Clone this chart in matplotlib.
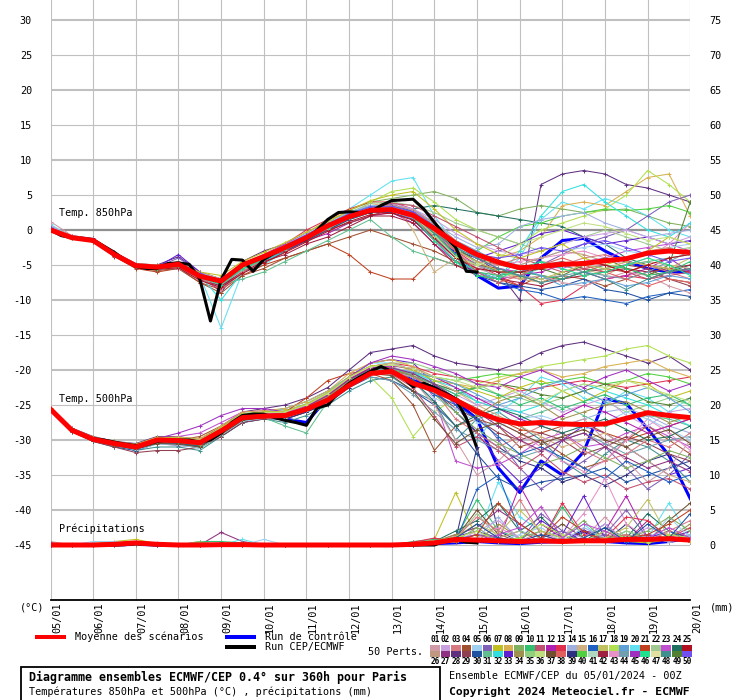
import numpy as np
import matplotlib
matplotlib.use('Agg')
import matplotlib.pyplot as plt
from matplotlib.patches import Rectangle
import matplotlib.transforms as mtransforms

W, H = 740, 700
MONO = 'DejaVu Sans Mono'
plt.rcParams['font.family'] = [MONO]

# ---------------- data ----------------
dates = ['05/01', '06/01', '07/01', '08/01', '09/01', '10/01', '11/01', '12/01',
         '13/01', '14/01', '15/01', '16/01', '17/01', '18/01', '19/01', '20/01']
hours12 = np.arange(0, 361, 12)   # members / mean / control every 12 h
hours6 = np.arange(0, 241, 6)     # deterministic run every 6 h, up to 240 h

left_ticks = list(range(-45, 31, 5))
right_ticks = list(range(0, 76, 5))

pert_colors = ['#d09aa8', '#c8a0e0', '#d87880', '#a05030', '#a0d0f0', '#8060b8', '#c0c020', '#d8b050',
               '#80b060', '#30c070', '#c05070', '#b020b0', '#e03050', '#a0b0e0', '#d0b080', '#2060c0',
               '#c0c060', '#b0e050', '#60a0d8', '#60e0f0', '#c04020', '#a0c890', '#c050d0', '#207060',
               '#b01020', '#c09880', '#903080', '#603080', '#904050', '#2050a0', '#60c090', '#30e0e0',
               '#6020d0', '#a09050', '#90d080', '#c0e080', '#705030', '#e06060', '#303080', '#50d040',
               '#b0d8c0', '#a02040', '#e890c8', '#70a0b0', '#a030c0', '#20e090', '#e0e0a0', '#409090',
               '#508030', '#7050f0']

# Temperature 850 hPa (deg C)
t850_mean = [0.0, -1.1, -1.5, -3.5, -5.1, -5.3, -4.9, -6.6, -7.3, -5.0, -3.8, -2.5, -1.1, 0.6, 1.9, 2.8,
             2.9, 2.1, 0.2, -1.9, -3.5, -4.6, -5.4, -5.2, -4.9, -4.8, -4.4, -4.1, -3.3, -3.0, -3.2]
t850_control = [0.0, -1.1, -1.5, -3.4, -5.0, -5.3, -4.9, -6.6, -7.5, -5.0, -3.8, -2.5, -1.0, 0.6, 1.9, 3.0,
                3.5, 2.5, 0.0, -3.5, -6.5, -8.3, -8.0, -4.0, -1.5, -1.2, -3.0, -4.5, -5.5, -6.0, -6.0]
t850_oper = [0.0, -0.8, -1.1, -1.2, -1.4, -2.3, -3.2, -4.3, -5.2, -5.5, -5.5, -4.8, -4.7, -4.9, -7.0, -13.0,
             -7.1, -4.2, -4.3, -5.9, -4.2, -3.3, -2.5, -1.8, -1.3, 0.0, 1.5, 2.5, 2.6, 2.5, 2.6, 3.5,
             4.2, 4.3, 4.4, 3.0, 1.1, -0.8, -2.5, -5.9, -6.0]
t850_member_ids = [28, 9, 24, 20, 21, 13, 16, 8, 18, 6, 40, 12, 43, 4, 15, 30, 23, 31, 22, 33, 32, 29,
                   49, 14, 42, 5, 44, 2, 1, 3, 7, 10, 11, 17, 19, 25, 26, 36, 38, 46, 48, 50]
t850_members = [
    [0.5, -0.8, -1.2, -3.2, -4.8, -5.0, -3.8, -6.0, -9.0, -4.5, -3.0, -2.0, -0.5, 1.0, 2.5, 3.5, 3.0, 1.5, -1.0, -3.0, -4.0, -6.0, -10.0, 6.5, 8.0, 8.5, 8.0, 6.5, 6.0, 5.0, 4.0],
    [0.2, -1.0, -1.6, -3.6, -5.2, -5.6, -4.8, -6.5, -7.0, -4.8, -3.5, -2.2, -0.8, 1.0, 2.8, 4.0, 4.5, 5.0, 5.5, 4.5, 2.5, 2.0, 3.0, 3.5, 3.0, 2.5, 2.8, 3.0, 2.0, 1.0, 0.5],
    [0.0, -1.2, -1.4, -3.4, -5.0, -5.2, -5.0, -7.0, -8.0, -6.0, -4.0, -2.5, -1.0, 0.5, 2.0, 3.0, 3.5, 3.0, 3.5, 3.0, 2.5, 2.0, 1.5, 1.0, 0.5, -1.0, -2.0, -4.0, -5.0, -6.0, -5.0],
    [0.8, -1.0, -1.5, -3.3, -5.0, -5.5, -5.0, -6.5, -14.0, -6.0, -5.0, -3.0, -1.5, 0.5, 3.0, 5.0, 7.0, 7.5, 2.0, -2.0, -5.0, -7.0, -4.0, 1.5, 4.0, 3.0, 4.5, 3.5, 2.0, 0.0, -1.0],
    [0.0, -1.2, -1.7, -3.8, -5.5, -6.0, -5.5, -7.5, -8.5, -6.5, -5.0, -4.0, -3.0, -2.0, -3.5, -6.0, -7.0, -7.0, -4.0, -5.0, -6.0, -7.0, -8.0, -6.5, -7.0, -6.0, -5.5, -6.0, -5.0, -5.5, -6.0],
    [0.2, -1.0, -1.5, -3.5, -5.0, -5.2, -4.5, -6.0, -7.0, -5.5, -4.0, -2.0, 0.0, 1.5, 3.0, 4.0, 4.0, 3.0, 0.5, -3.0, -5.0, -6.5, -8.0, -10.5, -10.0, -8.0, -7.0, -6.5, -7.0, -6.0, -5.5],
    [0.0, -1.2, -1.6, -3.6, -5.3, -5.6, -5.5, -7.0, -7.5, -5.0, -4.0, -3.0, -1.5, 0.0, 1.5, 2.5, 3.0, 2.0, -1.0, -4.0, -6.0, -7.5, -8.5, -9.0, -10.0, -9.5, -10.0, -10.5, -9.5, -9.0, -8.5],
    [0.5, -0.9, -1.4, -3.4, -5.0, -5.1, -4.8, -6.2, -7.5, -5.2, -3.5, -2.0, -0.5, 1.5, 2.5, 3.5, 3.5, 2.5, 0.0, -2.0, -3.5, -4.0, -3.0, -1.0, 3.5, 4.0, 3.5, 5.5, 7.5, 8.0, 2.0],
    [0.0, -1.1, -1.5, -3.5, -5.2, -5.4, -5.0, -6.5, -8.0, -5.0, -3.8, -2.3, -1.0, 0.5, 2.0, 4.0, 5.5, 6.0, 4.0, 1.5, 0.0, -1.0, -2.0, 0.0, 1.0, 2.0, 3.0, 5.0, 8.5, 6.5, 4.0],
    [0.3, -1.0, -1.5, -3.5, -5.0, -5.3, -4.0, -6.0, -7.0, -5.0, -4.0, -2.5, -1.0, 0.5, 2.0, 3.0, 3.5, 2.5, -1.0, -3.5, -5.0, -5.5, -6.0, -5.0, -3.5, -2.0, -1.0, 0.0, 2.0, 4.0, 5.0],
    [0.0, -1.0, -1.3, -3.3, -5.0, -5.0, -5.2, -6.8, -7.0, -5.5, -4.5, -3.0, -1.5, 0.0, 1.5, 2.5, 3.0, 2.0, 0.0, -2.5, -3.0, -1.0, 0.5, 1.0, 2.0, 2.5, 3.0, 2.8, 3.0, 3.5, 2.5],
    [0.2, -1.1, -1.5, -3.6, -5.1, -5.4, -5.2, -7.0, -8.5, -6.0, -4.5, -3.0, -1.5, -0.5, 1.0, 2.0, 2.5, 1.0, -2.0, -4.5, -6.0, -7.0, -6.5, -6.0, -5.0, -6.0, -7.0, -6.5, -5.5, -4.0, -6.0],
    [0.6, -1.0, -1.6, -3.5, -5.0, -5.5, -5.0, -6.3, -7.2, -5.2, -4.0, -2.5, -1.0, 0.5, 2.0, 3.0, 3.0, 1.5, -1.5, -4.0, -5.5, -5.0, -4.5, -4.0, -3.5, -3.0, -4.0, -5.0, -4.0, -2.0, 1.0],
    [0.0, -1.1, -1.7, -3.7, -5.4, -5.8, -5.5, -7.5, -9.0, -6.5, -5.5, -4.0, -3.0, -2.0, -1.0, 0.0, -1.0, -2.0, -3.0, -4.5, -5.0, -5.5, -6.5, -7.5, -6.5, -7.0, -8.0, -7.0, -6.0, -7.0, -7.5],
    [0.2, -1.0, -1.5, -3.3, -4.8, -5.0, -4.6, -6.0, -7.0, -5.0, -4.0, -2.0, -0.5, 1.0, 2.5, 3.5, 4.0, 0.0, -6.0, -4.0, -5.0, -6.0, -7.0, -7.5, -6.0, -5.5, -6.5, -5.0, -4.5, -5.0, -5.5],
    [0.0, -1.1, -1.5, -3.5, -5.3, -5.5, -5.2, -6.8, -8.0, -5.5, -4.5, -3.0, -1.5, 0.0, 1.5, 2.5, 2.5, 1.5, -1.5, -4.5, -6.5, -7.5, -8.0, -8.5, -8.0, -7.0, -8.5, -9.0, -10.0, -9.0, -9.5],
    [0.4, -1.0, -1.4, -3.4, -5.0, -5.2, -4.8, -6.5, -7.5, -5.0, -3.5, -2.0, -0.5, 1.0, 2.5, 3.5, 3.5, 3.0, 1.0, -2.0, -4.0, -5.5, -6.0, -5.0, -5.5, -4.5, -4.0, -3.0, -2.5, -2.0, -3.0],
    [0.0, -1.2, -1.6, -3.6, -5.2, -5.4, -5.0, -6.6, -7.8, -7.0, -6.0, -4.5, -3.0, -1.5, 0.0, 1.5, -1.0, -3.0, -4.0, -5.0, -5.5, -6.0, -6.5, -5.5, -5.0, -6.0, -5.5, -5.0, -4.5, -4.0, -3.5],
    [0.2, -1.0, -1.5, -3.4, -5.0, -5.2, -5.0, -6.2, -7.0, -5.0, -3.8, -2.4, -0.8, 1.0, 2.5, 3.8, 4.0, 3.5, 2.5, 1.0, 0.0, -1.0, -2.0, -3.0, -2.0, -1.0, 0.0, -1.0, -2.0, -3.0, -2.5],
    [0.2, -1.1, -1.6, -3.5, -5.1, -5.3, -3.5, -6.0, -8.0, -5.5, -4.0, -2.5, -1.0, 0.5, 2.0, 3.0, 3.0, 2.0, -0.5, -3.0, -4.0, -3.0, -2.0, -0.5, 0.0, -1.0, -2.0, -1.5, -1.0, -2.0, -1.5],
    [0.0, -1.0, -1.5, -3.5, -5.0, -5.3, -5.0, -6.5, -10.0, -6.0, -4.5, -3.0, -1.0, 0.5, 2.0, 3.0, 3.0, 2.0, -0.5, -4.0, -6.0, -7.0, -3.0, 2.0, 5.5, 6.5, 4.0, 2.0, 0.0, -1.0, 1.0],
    [0.0, -1.1, -1.5, -3.5, -5.2, -5.4, -5.2, -6.5, -7.5, -5.5, -4.0, -3.0, -1.0, 0.0, 1.0, 2.0, 3.0, 2.5, 0.5, -2.0, -4.0, -5.0, -5.5, -5.0, -4.5, -5.5, -6.0, -5.0, -5.5, -7.0, -8.0],
    [0.2, -1.0, -1.4, -3.4, -5.0, -5.2, -5.0, -6.3, -7.3, -5.0, -3.8, -2.5, -1.0, 0.5, 2.0, 3.2, 3.5, 2.5, 0.0, -2.5, -4.5, -6.0, -6.0, -5.5, -6.5, -5.0, -4.0, -5.5, -6.5, -5.0, 4.0],
    [0.3, -1.0, -1.5, -3.5, -5.0, -5.2, -4.8, -6.4, -7.5, -5.3, -4.0, -2.5, -1.0, 0.5, 2.0, 3.0, 3.5, 3.0, 1.0, -1.0, -2.5, -2.0, 0.5, 1.5, 2.0, 2.5, 1.0, 0.0, -1.0, -0.5, 0.0],
    [0.0, -1.2, -1.6, -3.6, -5.2, -5.5, -5.2, -7.0, -8.0, -6.0, -4.5, -3.5, -2.0, -1.0, 0.5, 2.0, 2.0, 1.0, -2.0, -5.0, -6.5, -7.0, -7.5, -8.0, -7.0, -6.5, -6.0, -5.5, -6.0, -5.5, -5.0],
    [0.4, -0.9, -1.3, -3.3, -4.9, -5.1, -4.9, -6.2, -7.0, -5.0, -3.8, -2.2, -0.5, 1.0, 2.5, 3.5, 3.5, 2.0, -0.5, -2.5, -4.0, -4.5, -5.0, -4.0, -3.0, -2.5, -2.0, -3.0, -3.5, -2.5, -2.0],
    [0.0, -1.1, -1.5, -3.5, -5.1, -5.3, -5.0, -6.5, -7.5, -5.5, -4.0, -2.8, -1.2, 0.2, 1.8, 2.8, 3.0, 2.0, -1.0, -3.5, -5.0, -6.0, -6.5, -7.0, -6.5, -6.0, -6.5, -7.0, -6.0, -4.5, -3.0],
    [0.5, -1.0, -1.5, -3.4, -5.0, -5.2, -5.0, -6.6, -7.2, -5.0, -3.6, -2.2, -0.8, 0.8, 2.2, 3.2, 3.8, 3.0, 1.5, -0.5, -2.0, -3.0, -3.5, -3.0, -2.0, -1.0, -0.5, 0.0, -1.0, -2.0, -1.0],
    [1.2, -0.8, -1.3, -3.2, -5.0, -5.4, -5.5, -7.0, -7.8, -5.8, -4.2, -2.8, -1.2, 0.2, 1.8, 3.0, 3.2, 2.2, -0.5, -3.0, -5.5, -6.5, -7.0, -6.5, -7.5, -8.0, -7.0, -6.0, -6.5, -8.0, -9.0],
    [0.3, -1.0, -1.5, -3.5, -5.2, -5.5, -5.3, -6.8, -8.5, -6.0, -4.2, -2.6, -1.2, 0.3, 1.7, 2.7, 2.8, 1.8, -1.0, -3.0, -4.5, -5.0, -4.0, -4.5, -5.0, -4.0, -3.5, -4.5, -5.0, -6.0, -7.0],
    [0.1, -1.0, -1.5, -3.5, -5.0, -5.3, -5.0, -6.0, -6.5, -4.5, -3.2, -1.8, -0.3, 1.2, 2.8, 4.2, 5.0, 5.5, 3.0, 0.0, -2.0, -3.5, -4.0, -3.0, -2.0, -4.0, -5.0, -4.0, -3.0, -1.0, -2.0],
    [0.2, -1.1, -1.6, -3.6, -5.2, -5.4, -5.1, -6.7, -7.6, -5.4, -4.1, -2.6, -1.1, 0.4, 1.9, 2.9, 3.1, 2.1, -0.5, -3.5, -6.0, -6.5, -6.0, -6.5, -7.0, -6.0, -5.0, -5.5, -6.5, -6.0, -4.5],
    [0.0, -1.0, -1.4, -3.4, -5.0, -5.2, -5.0, -6.6, -7.4, -5.2, -3.9, -2.5, -1.0, 0.5, 2.0, 3.2, 3.8, 3.5, 2.0, 0.5, -1.0, -2.5, -4.0, -5.0, -6.0, -5.5, -5.0, -6.0, -7.0, -6.5, -6.0],
    [0.3, -1.1, -1.5, -3.5, -5.1, -5.3, -4.9, -6.4, -7.4, -5.1, -3.9, -2.4, -0.9, 0.6, 2.1, 3.1, 3.3, 2.3, -0.2, -2.8, -4.6, -5.8, -6.8, -7.0, -6.0, -5.0, -5.5, -4.5, -5.0, -5.5, -4.0],
    [0.4, -1.0, -1.4, -3.3, -4.9, -5.1, -4.8, -6.3, -7.1, -5.0, -3.7, -2.2, -0.7, 0.9, 2.4, 3.4, 3.4, 2.6, 0.8, -1.5, -3.0, -4.5, -5.5, -6.5, -8.0, -7.5, -7.0, -8.0, -7.5, -6.5, -7.0],
    [0.0, -1.2, -1.6, -3.7, -5.3, -5.6, -5.4, -7.2, -8.2, -6.2, -4.7, -3.2, -1.7, -0.2, 1.2, 2.2, 2.4, 1.4, -1.2, -4.0, -5.5, -6.0, -6.0, -5.5, -5.0, -4.5, -5.0, -6.0, -5.0, -4.0, -3.5],
    [0.2, -1.0, -1.5, -3.5, -5.0, -5.2, -5.0, -6.4, -7.3, -5.1, -3.9, -2.4, -0.9, 0.6, 2.1, 3.1, 3.6, 2.8, 1.0, -1.5, -3.5, -5.0, -5.0, -4.0, -3.0, -3.5, -4.5, -4.0, -3.0, -2.5, -3.5],
    [0.1, -1.1, -1.5, -3.5, -5.1, -5.3, -5.0, -6.5, -7.6, -5.3, -4.0, -2.6, -1.1, 0.4, 1.9, 2.9, 3.1, 2.1, -0.8, -3.8, -5.0, -4.0, -2.0, -1.0, 0.0, 1.0, 0.5, -0.5, -1.5, -1.0, -2.0],
    [0.3, -0.9, -1.4, -3.4, -5.0, -5.2, -4.9, -6.4, -7.3, -5.1, -3.9, -2.4, -0.9, 0.6, 2.1, 3.1, 3.3, 2.4, 0.0, -3.0, -6.0, -7.5, -6.5, -5.0, -4.0, -5.0, -6.0, -7.0, -8.0, -7.0, -7.5],
    [0.0, -1.1, -1.6, -3.6, -5.2, -5.5, -5.2, -6.8, -7.8, -5.6, -4.2, -2.7, -1.2, 0.3, 1.8, 2.8, 3.0, 1.8, -1.5, -4.5, -6.5, -7.0, -5.5, -4.5, -5.5, -6.5, -6.0, -5.0, -4.0, -5.0, -6.5],
    [0.2, -1.0, -1.5, -3.4, -5.0, -5.2, -5.0, -6.5, -7.4, -5.2, -3.9, -2.4, -0.9, 0.6, 2.0, 3.0, 3.2, 2.2, -0.5, -2.5, -4.0, -5.5, -6.5, -7.5, -7.0, -6.0, -7.0, -8.5, -7.0, -6.0, -5.5],
    [0.3, -1.0, -1.5, -3.5, -5.1, -5.3, -4.7, -6.2, -7.2, -5.0, -3.7, -2.2, -0.7, 0.8, 2.3, 3.3, 3.4, 2.6, 0.5, -2.0, -3.5, -4.0, -3.5, -2.5, -3.0, -2.0, -1.5, -2.5, -3.5, -4.5, -4.0],
]

# Temperature 500 hPa (deg C)
t500_mean = [-25.6, -28.6, -29.9, -30.5, -31.0, -30.0, -30.1, -30.4, -28.7, -26.8, -26.6, -26.5, -25.6,
             -24.3, -22.2, -20.5, -20.2, -21.9, -22.9, -24.3, -26.0, -27.1, -27.7, -27.5, -27.7, -27.8,
             -27.7, -26.9, -26.1, -26.5, -26.8]
t500_control = [-25.6, -28.6, -29.9, -30.5, -31.0, -30.0, -30.1, -30.4, -28.7, -26.8, -26.6, -27.0, -27.5,
                -24.0, -21.5, -20.0, -20.0, -21.5, -22.5, -24.5, -27.0, -34.0, -37.5, -33.0, -35.0, -31.7,
                -24.1, -24.8, -28.4, -32.2, -38.4]
t500_oper = [-25.6, -27.2, -28.5, -29.3, -29.8, -30.0, -30.3, -30.6, -30.8, -30.6, -30.2, -30.0, -30.0,
             -30.0, -30.3, -30.0, -29.0, -27.5, -26.5, -26.3, -26.3, -26.8, -27.2, -27.5, -27.9, -25.4,
             -25.0, -23.2, -21.9, -21.0, -20.2, -19.5, -20.2, -21.0, -22.4, -21.9, -22.5, -23.3, -24.1,
             -26.9, -31.2]
t500_member_ids = [28, 6, 18, 33, 23, 48, 13, 40, 30, 20, 4, 35, 21, 39, 31, 8, 29, 14, 43, 49, 15, 32,
                   45, 44, 1, 2, 3, 5, 7, 9, 10, 11, 12, 16, 19, 24, 27, 36, 37, 34]
t500_members = [
    [-25.5, -28.3, -29.5, -30.2, -30.5, -29.5, -29.5, -30.0, -28.0, -26.0, -25.5, -25.0, -24.0, -22.5, -20.0, -17.5, -17.0, -16.5, -18.0, -19.0, -19.5, -20.0, -19.0, -17.5, -16.5, -16.0, -17.0, -18.0, -19.0, -18.0, -20.0],
    [-25.6, -28.7, -30.0, -30.8, -31.5, -30.5, -30.8, -31.0, -29.0, -27.0, -26.5, -27.0, -26.0, -24.5, -22.0, -20.0, -19.5, -21.0, -22.0, -24.0, -26.0, -30.0, -34.0, -37.0, -35.0, -33.0, -31.0, -34.0, -37.0, -35.0, -32.0],
    [-25.4, -28.5, -29.8, -30.5, -31.0, -30.0, -30.0, -30.5, -28.5, -26.5, -26.0, -26.5, -25.5, -24.0, -22.0, -21.0, -24.0, -29.5, -26.0, -24.0, -22.0, -21.0, -20.5, -19.5, -19.0, -18.5, -18.0, -17.0, -16.5, -18.0, -19.0],
    [-25.6, -28.6, -29.9, -30.6, -31.2, -30.2, -30.3, -30.6, -29.0, -27.0, -26.0, -25.5, -24.5, -23.0, -21.0, -19.0, -18.5, -19.0, -22.0, -25.0, -29.0, -33.0, -36.0, -34.0, -30.0, -28.0, -29.0, -31.0, -33.0, -35.0, -34.0],
    [-25.5, -28.4, -29.7, -30.3, -30.8, -29.8, -29.5, -29.0, -27.5, -26.0, -25.8, -26.0, -25.0, -23.5, -21.0, -19.5, -19.0, -20.0, -24.0, -33.0, -34.0, -33.5, -32.0, -30.0, -29.0, -31.0, -30.5, -29.0, -28.0, -29.5, -31.0],
    [-25.6, -28.7, -30.0, -30.8, -31.5, -31.0, -31.0, -31.5, -29.5, -27.5, -27.0, -27.5, -26.5, -25.0, -23.0, -21.5, -21.0, -23.0, -24.5, -30.0, -27.0, -26.0, -28.0, -30.0, -33.0, -35.0, -32.0, -30.0, -31.0, -33.0, -36.0],
    [-25.5, -28.5, -29.8, -30.4, -30.8, -29.8, -29.8, -30.2, -28.5, -26.8, -26.5, -26.0, -25.0, -23.5, -21.5, -19.5, -19.0, -19.5, -20.5, -21.0, -21.5, -22.0, -23.0, -22.5, -22.0, -21.5, -22.0, -22.5, -22.0, -21.5, -21.0],
    [-25.6, -28.6, -29.9, -30.5, -31.0, -30.0, -30.2, -30.5, -28.8, -26.8, -26.5, -26.5, -25.5, -24.0, -21.5, -20.0, -20.0, -20.5, -21.0, -21.5, -21.0, -20.5, -21.0, -22.0, -21.5, -21.0, -22.0, -21.5, -20.5, -21.0, -22.0],
    [-25.6, -28.8, -30.2, -31.0, -31.5, -30.5, -30.5, -31.0, -29.5, -27.5, -27.0, -27.0, -26.0, -24.5, -22.5, -21.0, -21.5, -23.0, -25.0, -28.0, -32.0, -35.5, -37.0, -36.0, -35.5, -35.0, -34.0, -36.0, -35.0, -34.0, -33.0],
    [-25.5, -28.5, -29.8, -30.5, -31.0, -30.0, -30.0, -30.3, -28.5, -26.5, -26.0, -25.5, -24.5, -23.0, -21.0, -19.0, -19.0, -20.0, -22.0, -23.5, -30.0, -26.0, -24.0, -21.0, -22.0, -24.0, -25.0, -23.0, -24.0, -26.0, -24.0],
    [-25.6, -28.7, -30.0, -30.7, -31.2, -30.2, -30.0, -29.5, -28.0, -26.5, -26.8, -27.0, -26.0, -24.5, -22.0, -20.5, -21.5, -25.0, -31.5, -28.0, -27.0, -28.0, -31.0, -30.0, -32.0, -34.0, -33.0, -30.0, -28.0, -30.0, -32.0],
    [-25.5, -28.4, -29.6, -30.2, -30.8, -29.8, -29.6, -30.0, -28.2, -26.2, -26.0, -25.8, -24.8, -23.2, -21.0, -19.5, -19.0, -19.0, -20.0, -21.0, -22.0, -23.5, -24.0, -25.0, -24.0, -23.0, -24.5, -26.0, -25.0, -24.0, -25.0],
    [-25.6, -28.6, -29.9, -30.6, -31.0, -30.0, -30.3, -30.8, -29.0, -27.0, -26.5, -26.0, -24.0, -21.5, -20.5, -20.0, -20.5, -21.0, -22.5, -24.0, -25.5, -27.0, -28.5, -29.0, -28.0, -27.5, -29.0, -30.0, -29.0, -28.0, -27.0],
    [-25.6, -28.7, -30.1, -30.8, -31.3, -30.5, -30.5, -31.0, -29.2, -27.2, -26.8, -27.0, -26.0, -24.8, -22.5, -20.5, -20.5, -21.5, -23.0, -26.0, -29.0, -31.0, -33.0, -34.0, -36.0, -35.0, -36.5, -35.0, -33.0, -32.0, -34.0],
    [-25.6, -28.6, -30.0, -30.6, -31.1, -30.4, -30.6, -31.2, -29.4, -27.2, -26.8, -28.0, -29.0, -24.5, -22.0, -20.5, -20.5, -21.0, -22.0, -23.0, -24.5, -25.5, -27.0, -26.0, -25.0, -26.5, -28.0, -27.0, -26.5, -27.0, -28.0],
    [-25.4, -28.4, -29.6, -30.2, -30.6, -29.6, -29.6, -29.8, -28.0, -26.0, -25.8, -25.5, -24.5, -23.0, -20.5, -19.0, -18.5, -19.5, -21.0, -22.0, -22.5, -21.5, -20.5, -20.0, -21.0, -20.5, -19.5, -19.0, -18.5, -20.0, -21.0],
    [-25.6, -28.8, -30.2, -31.0, -31.8, -31.5, -31.5, -31.0, -29.5, -27.5, -27.0, -26.8, -25.5, -24.0, -22.0, -20.5, -20.0, -21.0, -23.0, -25.5, -27.0, -29.0, -30.0, -29.0, -30.0, -32.0, -31.0, -29.5, -30.5, -32.0, -33.0],
    [-25.5, -28.5, -29.8, -30.4, -30.9, -29.9, -29.9, -30.2, -28.6, -26.6, -26.2, -26.0, -25.0, -23.5, -21.0, -19.5, -19.5, -20.5, -22.0, -23.0, -24.0, -25.0, -26.0, -27.0, -28.0, -27.0, -26.0, -25.5, -26.5, -28.0, -29.0],
    [-25.6, -28.6, -29.9, -30.5, -31.0, -30.1, -30.1, -30.4, -28.8, -26.8, -26.4, -26.3, -25.4, -23.8, -21.5, -20.0, -20.0, -21.0, -22.5, -24.0, -26.0, -27.5, -29.0, -31.0, -33.0, -34.5, -33.0, -30.0, -27.0, -29.0, -31.5],
    [-25.6, -28.6, -30.0, -30.6, -31.2, -30.3, -30.4, -30.8, -29.0, -27.0, -26.6, -26.4, -25.5, -24.0, -21.8, -20.2, -20.0, -21.0, -22.0, -23.0, -22.5, -22.0, -22.5, -23.5, -24.0, -23.0, -22.0, -23.0, -24.5, -25.0, -24.0],
    [-25.5, -28.5, -29.8, -30.4, -30.9, -30.0, -29.8, -30.0, -28.4, -26.6, -26.2, -26.0, -25.0, -23.5, -21.2, -19.5, -19.0, -20.0, -21.5, -23.0, -25.0, -26.5, -28.0, -29.5, -31.0, -30.0, -29.0, -31.0, -33.0, -35.0, -36.0],
    [-25.6, -28.7, -30.1, -30.7, -31.2, -30.4, -30.5, -30.9, -29.2, -27.2, -26.8, -26.5, -25.5, -24.0, -21.5, -20.0, -20.0, -20.5, -21.5, -22.5, -24.5, -25.5, -26.0, -25.0, -23.0, -22.0, -23.0, -24.0, -25.0, -26.5, -28.0],
    [-25.5, -28.5, -29.7, -30.3, -30.8, -29.8, -29.0, -28.0, -26.5, -25.5, -25.5, -26.0, -25.0, -23.5, -21.0, -19.0, -18.0, -18.5, -19.5, -20.5, -22.0, -22.5, -21.0, -20.0, -21.5, -22.5, -21.0, -20.0, -21.5, -23.0, -22.0],
    [-25.6, -28.6, -29.9, -30.5, -31.0, -30.1, -30.2, -30.6, -28.9, -26.9, -26.6, -26.6, -25.6, -24.2, -22.2, -21.0, -21.5, -23.5, -26.0, -28.5, -30.0, -31.5, -32.5, -31.5, -30.0, -29.0, -30.5, -32.0, -31.0, -30.0, -29.5],
    [-25.5, -28.5, -29.9, -30.6, -31.1, -30.2, -30.3, -30.7, -28.9, -26.9, -26.5, -26.4, -25.4, -23.8, -21.6, -20.0, -20.0, -21.5, -25.0, -30.0, -35.0, -33.0, -30.0, -32.0, -28.0, -27.0, -30.0, -33.0, -36.0, -34.0, -30.0],
    [-25.6, -28.6, -30.0, -30.7, -31.2, -30.3, -30.4, -30.8, -29.0, -27.0, -26.6, -26.5, -25.5, -24.0, -21.8, -20.3, -20.2, -21.0, -22.0, -23.5, -25.0, -24.0, -23.0, -24.5, -26.0, -25.0, -24.0, -26.5, -28.0, -26.0, -25.5],
    [-25.5, -28.5, -29.8, -30.4, -30.9, -29.9, -30.0, -30.3, -28.6, -26.6, -26.3, -26.2, -25.2, -23.6, -21.3, -19.8, -19.6, -20.8, -23.0, -27.0, -29.0, -31.0, -29.5, -28.0, -29.0, -31.5, -33.0, -32.0, -30.0, -31.0, -29.0],
    [-25.6, -28.7, -30.1, -30.8, -31.4, -30.6, -30.7, -31.1, -29.3, -27.3, -26.9, -26.8, -25.8, -24.3, -22.0, -20.4, -20.5, -22.0, -24.0, -25.5, -27.5, -28.0, -27.0, -26.5, -27.5, -28.5, -27.5, -26.0, -27.0, -28.5, -30.0],
    [-25.4, -28.4, -29.7, -30.3, -30.7, -29.7, -29.7, -30.1, -28.3, -26.3, -26.0, -25.9, -24.9, -23.3, -21.0, -19.4, -19.3, -20.0, -21.5, -22.0, -23.0, -24.0, -22.5, -21.5, -23.0, -24.5, -23.0, -21.5, -22.0, -24.0, -23.0],
    [-25.6, -28.6, -29.9, -30.5, -31.0, -30.1, -30.2, -30.6, -28.8, -26.8, -26.5, -26.4, -25.5, -23.9, -21.7, -20.2, -20.2, -21.5, -23.5, -26.0, -28.5, -30.5, -32.0, -33.5, -32.5, -31.0, -32.5, -34.0, -33.0, -31.5, -32.5],
    [-25.5, -28.6, -29.9, -30.5, -31.0, -30.1, -30.1, -30.5, -28.7, -26.7, -26.4, -26.3, -25.3, -23.7, -21.4, -19.9, -19.9, -20.8, -22.0, -23.5, -22.5, -23.5, -25.0, -24.0, -25.5, -24.5, -23.5, -25.0, -24.0, -23.5, -25.0],
    [-25.6, -28.7, -30.1, -30.8, -31.3, -30.4, -30.5, -30.9, -29.1, -27.1, -26.7, -26.6, -25.6, -24.1, -21.9, -20.4, -20.6, -22.5, -26.5, -31.0, -29.5, -31.5, -34.0, -32.0, -34.5, -36.0, -35.0, -37.0, -36.0, -35.5, -37.0],
    [-25.5, -28.5, -29.8, -30.4, -30.9, -30.0, -30.0, -30.4, -28.6, -26.6, -26.3, -26.2, -25.2, -23.6, -21.3, -19.7, -19.4, -19.8, -21.0, -22.5, -24.0, -25.5, -27.0, -28.0, -26.5, -25.0, -26.0, -27.5, -29.0, -28.0, -27.0],
    [-25.6, -28.7, -30.1, -30.7, -31.3, -30.4, -30.5, -30.9, -29.1, -27.1, -26.7, -26.6, -25.7, -24.1, -21.9, -20.3, -20.3, -21.5, -23.5, -25.0, -27.0, -29.5, -32.0, -31.0, -32.5, -34.0, -35.5, -33.0, -34.5, -36.0, -35.0],
    [-25.5, -28.5, -29.9, -30.5, -31.0, -30.0, -30.1, -30.5, -28.7, -26.7, -26.4, -26.3, -25.3, -23.8, -21.5, -19.9, -19.8, -20.3, -21.0, -22.0, -23.5, -25.0, -24.0, -22.5, -21.5, -23.0, -24.5, -23.5, -22.5, -24.0, -26.0],
    [-25.6, -28.7, -30.0, -30.7, -31.2, -30.3, -30.4, -30.8, -29.0, -27.0, -26.6, -26.5, -25.5, -24.0, -21.8, -20.2, -20.3, -21.5, -24.5, -28.0, -26.5, -25.5, -26.5, -28.0, -29.0, -28.0, -27.0, -28.5, -30.0, -29.5, -28.0],
    [-25.5, -28.5, -29.8, -30.5, -31.0, -30.1, -30.2, -30.6, -28.8, -26.8, -26.4, -26.3, -25.3, -23.7, -21.4, -19.8, -19.7, -20.5, -22.0, -24.0, -26.0, -28.0, -30.0, -31.5, -30.0, -29.0, -31.0, -32.5, -34.0, -33.0, -34.5],
    [-25.4, -28.4, -29.7, -30.3, -30.8, -29.8, -29.8, -30.2, -28.4, -26.4, -26.1, -26.0, -25.0, -23.4, -21.1, -19.5, -19.3, -19.8, -21.0, -21.5, -22.5, -22.0, -23.5, -24.5, -23.0, -22.0, -22.5, -21.5, -22.5, -23.5, -24.5],
    [-25.6, -28.7, -30.1, -30.8, -31.3, -30.5, -30.6, -31.0, -29.2, -27.2, -26.8, -26.7, -25.7, -24.2, -22.0, -20.5, -20.8, -23.0, -27.0, -30.5, -28.5, -27.5, -29.0, -30.5, -29.5, -28.5, -30.0, -31.0, -29.5, -28.5, -30.5],
    [-25.6, -28.6, -30.0, -30.6, -31.1, -30.2, -30.3, -30.7, -28.9, -26.9, -26.5, -26.4, -25.4, -23.8, -21.6, -20.1, -20.0, -20.8, -22.5, -24.0, -26.5, -24.5, -23.5, -25.0, -27.0, -26.0, -25.0, -24.5, -26.0, -27.5, -26.5],
]

# Precipitation (mm, right axis)
rr_mean = [0.0, 0.0, 0.0, 0.1, 0.3, 0.1, 0.0, 0.0, 0.05, 0.05, 0.0, 0.0, 0.0, 0.0, 0.0, 0.0, 0.0, 0.1,
           0.3, 0.8, 0.7, 0.6, 0.5, 0.6, 0.5, 0.6, 0.6, 0.8, 0.8, 0.9, 0.7]
rr_control = [0.0, 0.0, 0.0, 0.0, 0.1, 0.0, 0.0, 0.0, 0.0, 0.0, 0.0, 0.0, 0.0, 0.0, 0.0, 0.0, 0.0, 0.0,
              0.2, 0.3, 0.5, 0.3, 0.2, 0.4, 0.5, 2.0, 0.5, 0.3, 0.2, 0.5, 1.0]
rr_oper = [0.0, 0.0, 0.0, 0.0, 0.0, 0.0, 0.0, 0.05, 0.2, 0.1, 0.0, 0.0, 0.0, 0.0, 0.0, 0.0, 0.0, 0.0, 0.0,
           0.0, 0.0, 0.0, 0.0, 0.0, 0.0, 0.0, 0.0, 0.0, 0.0, 0.0, 0.0, 0.0, 0.0, 0.0, 0.0, 0.0, 0.0, 0.6,
           0.8, 0.4, 0.3]
rr_member_ids = [1, 7, 39, 27, 20, 10, 24, 12, 37, 43, 13, 16, 33, 22, 34, 5,
                 2, 3, 6, 9, 14, 17, 18, 21, 23, 30]
rr_members = [
    [0.5, 0, 0, 0.3, 0.5, 0.3, 0, 0, 0, 0, 0, 0, 0, 0, 0, 0, 0, 0, 0.5, 1.0, 3.0, 1.0, 0.5, 2.0, 0.5, 1.0, 4.0, 1.0, 0.5, 2.0, 1.0],
    [0, 0, 0.2, 0.5, 0.8, 0.2, 0, 0, 0, 0, 0, 0, 0, 0, 0, 0, 0, 0, 0.8, 7.5, 1.0, 0.5, 0.5, 1.0, 0.3, 0.5, 1.5, 0.5, 0.3, 0.8, 0.5],
    [0, 0, 0, 0, 0.3, 0, 0, 0, 0, 0, 0, 0, 0, 0, 0, 0, 0, 0, 0.5, 0.8, 14.0, 2.0, 0.5, 1.0, 2.0, 0.5, 0.5, 3.0, 0.5, 1.0, 2.0],
    [0, 0, 0, 0.2, 0.3, 0, 0, 0, 1.8, 0.5, 0, 0, 0, 0, 0, 0, 0, 0.2, 0.4, 1.5, 2.5, 5.0, 3.0, 1.0, 0.5, 2.0, 1.5, 0.5, 3.5, 1.0, 0.5],
    [0, 0.2, 0, 0, 0.5, 0, 0, 0, 0, 0.8, 0, 0, 0, 0, 0, 0, 0, 0, 0.3, 0.5, 1.0, 9.0, 4.0, 2.0, 1.0, 3.0, 0.5, 1.5, 1.0, 6.0, 1.0],
    [0.2, 0, 0, 0.3, 0.5, 0.2, 0, 0.5, 0.5, 0.3, 0, 0, 0, 0, 0, 0, 0, 0.5, 0.8, 1.0, 6.5, 2.0, 1.0, 0.5, 5.5, 1.0, 0.5, 2.0, 1.0, 0.5, 1.5],
    [0, 0, 0, 0, 0.2, 0, 0, 0, 0, 0, 0, 0, 0, 0, 0, 0, 0, 0.3, 0.5, 2.0, 3.5, 6.0, 2.0, 4.0, 1.0, 0.5, 2.5, 1.0, 4.5, 2.0, 1.0],
    [0, 0, 0, 0, 0.3, 0, 0, 0, 0, 0, 0, 0, 0, 0, 0, 0, 0, 0.2, 0.4, 0.8, 1.5, 0.5, 8.5, 3.0, 1.0, 0.5, 2.0, 7.0, 1.0, 0.5, 2.0],
    [0, 0, 0, 0.2, 0.5, 0, 0, 0, 0, 0, 0, 0, 0, 0, 0, 0, 0, 0, 0.3, 1.0, 5.0, 1.5, 0.5, 1.0, 3.0, 1.0, 0.5, 1.0, 0.5, 3.5, 6.0],
    [0, 0, 0, 0, 0.3, 0, 0, 0, 0, 0, 0, 0, 0, 0, 0, 0, 0, 0, 0.2, 0.5, 1.0, 2.5, 1.0, 0.5, 1.0, 4.5, 9.5, 3.0, 1.0, 0.5, 1.0],
    [0, 0, 0, 0.3, 0.4, 0, 0, 0, 0, 0, 0, 0, 0, 0, 0, 0, 0, 0.4, 1.0, 0.5, 1.5, 1.0, 2.0, 0.5, 6.0, 1.5, 1.0, 4.0, 3.5, 1.0, 2.5],
    [0, 0, 0, 0, 0.2, 0, 0, 0, 0, 0, 0, 0, 0, 0, 0, 0, 0, 0, 0.2, 0.5, 8.0, 10.0, 2.0, 1.0, 0.5, 1.0, 3.0, 0.5, 1.0, 2.0, 0.5],
    [0, 0, 0, 0.2, 0.3, 0, 0, 0, 0, 0, 0, 0, 0, 0, 0, 0, 0, 0.3, 0.5, 1.2, 2.0, 1.0, 0.5, 3.5, 1.5, 7.0, 1.0, 0.5, 1.5, 1.0, 0.5],
    [0, 0, 0, 0, 0.5, 0, 0, 0.5, 0, 0, 0, 0, 0, 0, 0, 0, 0, 0, 0.4, 0.8, 4.5, 1.0, 2.0, 1.0, 0.5, 1.0, 0.5, 2.0, 1.0, 0.5, 1.0],
    [0, 0, 0, 0, 0, 0, 0, 0, 0, 0, 0, 0, 0, 0, 0, 0, 0, 0, 0.5, 1.5, 0.5, 3.0, 1.0, 0.5, 1.0, 0.5, 1.0, 1.5, 0.5, 1.0, 3.0],
    [0, 0, 0.5, 0.5, 0.2, 0, 0, 0, 0, 0, 0.8, 0, 0, 0, 0, 0, 0, 0, 0.3, 0.5, 1.0, 0.5, 1.5, 2.5, 0.5, 1.0, 0.5, 1.0, 0.5, 4.0, 1.0],
    [0, 0, 0, 0.3, 0.2, 0, 0, 0, 0, 0, 0, 0, 0, 0, 0, 0, 0, 0, 0.2, 0.5, 2.0, 3.5, 1.0, 0.5, 2.0, 1.0, 3.0, 0.5, 2.5, 1.5, 0.5],
    [0, 0, 0, 0, 0.4, 0, 0, 0, 0, 0, 0, 0, 0, 0, 0, 0, 0, 0.2, 0.3, 1.0, 4.0, 2.0, 6.5, 1.5, 0.5, 1.0, 0.5, 1.5, 0.5, 2.0, 3.5],
    [0.3, 0, 0, 0.2, 0.3, 0, 0, 0, 0, 0, 0, 0, 0, 0, 0, 0, 0, 0, 0.5, 0.8, 1.5, 1.0, 0.5, 4.5, 2.0, 0.5, 1.5, 5.0, 1.0, 0.5, 1.0],
    [0, 0, 0, 0, 0.3, 0, 0, 0.4, 0, 0, 0, 0, 0, 0, 0, 0, 0, 0, 0.3, 0.6, 2.5, 0.5, 1.0, 2.0, 1.0, 3.5, 0.5, 1.0, 2.0, 4.0, 2.0],
    [0, 0, 0, 0, 0.2, 0, 0, 0, 0, 0, 0, 0, 0, 0, 0, 0, 0, 0, 0.2, 0.6, 1.0, 4.0, 0.5, 1.0, 0.5, 2.5, 1.0, 0.5, 1.0, 0.5, 1.5],
    [0, 0, 0, 0.2, 0.4, 0, 0, 0, 0, 0, 0, 0, 0, 0, 0, 0, 0, 0.3, 0.6, 1.2, 3.0, 1.5, 5.0, 2.0, 1.0, 0.5, 1.0, 2.5, 6.5, 1.0, 0.5],
    [0, 0, 0, 0, 0.3, 0, 0, 0, 0, 0, 0, 0, 0, 0, 0, 0, 0, 0, 0.5, 1.0, 2.0, 0.5, 1.0, 3.0, 1.5, 0.5, 2.0, 1.0, 0.5, 1.5, 1.0],
    [0, 0, 0, 0, 0.2, 0, 0, 0, 0, 0, 0, 0, 0, 0, 0, 0, 0, 0, 0.3, 0.5, 1.5, 6.0, 3.0, 1.0, 4.0, 2.0, 0.5, 1.0, 1.5, 3.0, 5.0],
    [0, 0, 0, 0, 0.3, 0, 0, 0, 0, 0, 0, 0, 0, 0, 0, 0, 0, 0.2, 0.4, 0.8, 0.5, 1.5, 2.5, 5.5, 1.0, 3.0, 2.0, 0.5, 1.0, 2.5, 1.0],
    [0, 0, 0, 0.2, 0.3, 0, 0, 0, 0, 0, 0, 0, 0, 0, 0, 0, 0, 0, 0.3, 1.0, 3.0, 1.0, 0.5, 1.5, 0.5, 1.0, 2.5, 0.5, 3.0, 1.0, 4.5],
]

# ---------------- figure ----------------
fig = plt.figure(figsize=(W / 100, H / 100), dpi=100)
PL, PR, PB, PT = 50.5, 690.3, 600.0, 0.0
ax = fig.add_axes([PL / W, 1 - PB / H, (PR - PL) / W, (PB - PT) / H])
ylo, yhi = -(PB - 230) / 7.0, (230 - PT) / 7.0
ax.set_xlim(0, 360)
ax.set_ylim(ylo, yhi)
ax2 = ax.twinx()
ax2.set_ylim(ylo + 45, yhi + 45)

# grid
for h in range(0, 361, 24):
    ax.axvline(h, color='#c0c0c0', lw=0.8, zorder=0)
for v in left_ticks:
    if v == 0:
        ax.axhline(v, color='#909090', lw=1.6, zorder=0.5)
    else:
        ax.axhline(v, color='#c0c0c0', lw=1.5 if v % 10 == 0 else 0.8, zorder=0)

for s in ['left', 'right', 'top']:
    ax.spines[s].set_visible(False)
    ax2.spines[s].set_visible(False)
ax2.spines['bottom'].set_visible(False)
ax.spines['bottom'].set_color('black')
ax.spines['bottom'].set_linewidth(1.3)

ax.set_xticks([])
ax2.set_xticks([])
ax.set_yticks(left_ticks)
ax.set_yticklabels([str(t) for t in left_ticks])
ax2.set_yticks(right_ticks)
ax2.set_yticklabels([str(t) for t in right_ticks])
ax.tick_params(axis='y', length=0, pad=13.3, labelsize=7.3)
ax2.tick_params(axis='y', length=0, pad=13.5, labelsize=7.3)

# date labels
trans = mtransforms.offset_copy(ax.get_xaxis_transform(), fig=fig, x=6.5, y=-2, units='dots')
for i, d in enumerate(dates):
    ax.text(i * 24, 0, d, rotation=90, ha='center', va='top', fontsize=7.3, transform=trans)


# perturbations
def draw_members(axis, members, ids):
    for vals, mid in zip(members, ids):
        axis.plot(hours12, vals, color=pert_colors[mid - 1], lw=0.75, marker='+', ms=3,
                  mew=0.7, zorder=2)


for axis, ctrl, oper, mean in [(ax, t850_control, t850_oper, t850_mean),
                               (ax, t500_control, t500_oper, t500_mean),
                               (ax2, rr_control, rr_oper, rr_mean)]:
    axis.plot(hours12, ctrl, color='#0000ff', lw=2.2, zorder=1.8)
    axis.plot(hours6, oper, color='#000000', lw=2.2, zorder=4)
    axis.plot(hours12, mean, color='#ff0000', lw=3.6, zorder=5)

draw_members(ax, t850_members, t850_member_ids)
draw_members(ax, t500_members, t500_member_ids)
draw_members(ax2, rr_members, rr_member_ids)

# section labels
ax.text(5, 2.43, 'Temp. 850hPa', fontsize=7.3, va='center', ha='left', zorder=6)
ax.text(5, -24.1, 'Temp. 500hPa', fontsize=7.3, va='center', ha='left', zorder=6)
ax.text(5, -42.7, 'Précipitations', fontsize=7.3, va='center', ha='left', zorder=6)


def fx(x):
    return x / W


def fy(y):
    return 1 - y / H


fig.text(fx(20), fy(607), '(°C)', fontsize=7.3, ha='left', va='center')
fig.text(fx(710), fy(607), '(mm)', fontsize=7.3, ha='left', va='center')


# legend
def bar(x0, x1, ycen, color):
    fig.add_artist(Rectangle((fx(x0), fy(ycen + 2)), (x1 - x0) / W, 4 / H, transform=fig.transFigure,
                             facecolor=color, edgecolor='none'))


bar(35, 65.5, 637.3, '#ff0000')
bar(225, 255.5, 637.3, '#0000ff')
bar(225, 255.5, 646.7, '#000000')
fig.text(fx(75), fy(637), 'Moyenne des scénarios', fontsize=7.3, ha='left', va='center')
fig.text(fx(265), fy(637), 'Run de contrôle', fontsize=7.3, ha='left', va='center')
fig.text(fx(265), fy(647), 'Run CEP/ECMWF', fontsize=7.3, ha='left', va='center')
fig.text(fx(368), fy(652), '50 Perts.', fontsize=7.3, ha='left', va='center')

pitch = (693 - 430) / 25.0
for k in range(25):
    x0 = 430 + k * pitch
    fig.add_artist(Rectangle((fx(x0), fy(650.7)), (pitch - 0.7) / W, 6 / H, transform=fig.transFigure,
                             facecolor=pert_colors[k], edgecolor='none'))
    fig.add_artist(Rectangle((fx(x0), fy(656.7)), (pitch - 0.7) / W, 6 / H, transform=fig.transFigure,
                             facecolor=pert_colors[k + 25], edgecolor='none'))
    fig.text(fx(x0 + pitch / 2 - 0.3), fy(640), '%02d' % (k + 1), fontsize=5.6, fontweight='bold',
             ha='center', va='center')
    fig.text(fx(x0 + pitch / 2 - 0.3), fy(661.5), '%02d' % (k + 26), fontsize=5.6, fontweight='bold',
             ha='center', va='center')

# bottom box
fig.add_artist(Rectangle((fx(20.5), fy(701)), (440 - 20.5) / W, (701 - 667.5) / H,
                         transform=fig.transFigure, facecolor='none', edgecolor='black', lw=1.3))
fig.text(fx(29), fy(677.3), 'Diagramme ensembles ECMWF/CEP 0.4° sur 360h pour Paris', fontsize=8.35,
         fontweight='bold', ha='left', va='center')
fig.text(fx(29), fy(691.7), 'Températures 850hPa et 500hPa (°C) , précipitations (mm)', fontsize=7.3,
         ha='left', va='center')
fig.text(fx(449), fy(676), 'Ensemble ECMWF/CEP du 05/01/2024 - 00Z', fontsize=7.3, ha='left', va='center')
fig.text(fx(449), fy(691.7), 'Copyright 2024 Meteociel.fr - ECMWF', fontsize=8.2, fontweight='bold',
         ha='left', va='center')

fig.savefig('out.png', dpi=100)
